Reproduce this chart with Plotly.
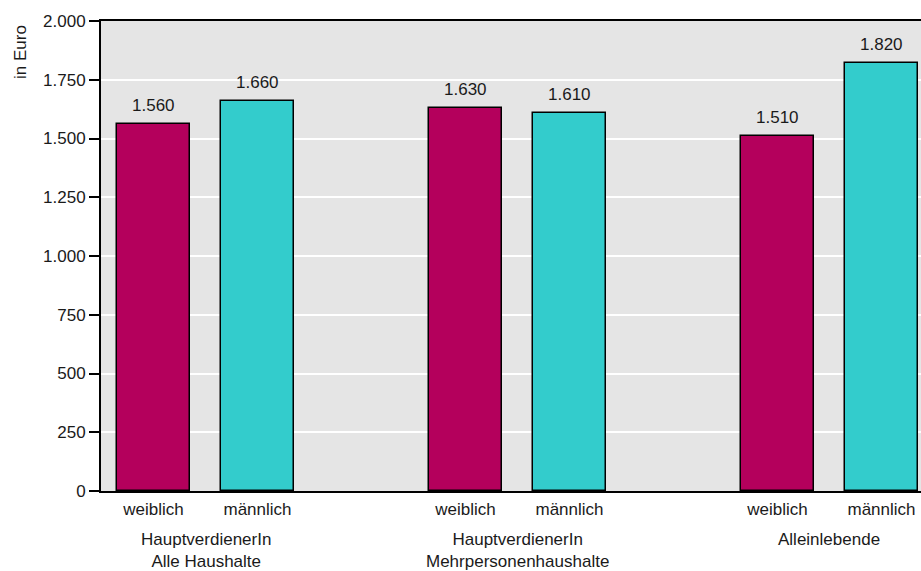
import plotly.graph_objects as go

groups = ["HauptverdienerIn<br>Alle Haushalte", "HauptverdienerIn<br>Mehrpersonenhaushalte", "Alleinlebende"]
genders = ["weiblich", "männlich"]
weiblich = [1560, 1630, 1510]
maennlich = [1660, 1610, 1820]
y_ticks = [0, 250, 500, 750, 1000, 1250, 1500, 1750, 2000]

col_w = "#b4005c"
col_m = "#33cccc"
txt = "#1a1a1a"
FS = 17

xw = [3 * i for i in range(len(groups))]
xm = [3 * i + 1 for i in range(len(groups))]

def fmt(v):
    return f"{v:,}".replace(",", ".")

fig = go.Figure()
fig.add_bar(x=xw, y=weiblich, width=0.7, marker=dict(color=col_w, line=dict(color="black", width=1.5)), name="weiblich")
fig.add_bar(x=xm, y=maennlich, width=0.7, marker=dict(color=col_m, line=dict(color="black", width=1.5)), name="männlich")

annotations = []
for xs, vs in ((xw, weiblich), (xm, maennlich)):
    for x, v in zip(xs, vs):
        annotations.append(dict(x=x, y=v, text=fmt(v), showarrow=False, yanchor="bottom", yshift=7,
                                font=dict(size=FS, color=txt)))
for i, g in enumerate(groups):
    annotations.append(dict(x=3 * i + 0.5, y=0, yref="y", text=g, showarrow=False, yanchor="top", yshift=-37,
                            font=dict(size=FS, color=txt)))
annotations.append(dict(x=0, xref="paper", xanchor="center", xshift=-81, y=1868, yref="y", yanchor="middle",
                        text="in Euro", textangle=-90, showarrow=False,
                        font=dict(size=FS, color=txt)))

tickvals = xw + xm
ticktext = [genders[0]] * len(xw) + [genders[1]] * len(xm)

fig.update_layout(
    width=921, height=571,
    margin=dict(l=101, r=0, t=21, b=80, autoexpand=False),
    plot_bgcolor="#e5e5e5", paper_bgcolor="white",
    showlegend=False,
    separators=",.",
    font=dict(family="Liberation Sans, Arial, sans-serif", size=FS, color=txt),
    annotations=annotations,
    bargap=0,
)
fig.update_xaxes(range=[-0.505, 7.38], tickvals=tickvals, ticktext=ticktext, showgrid=False,
                 showline=True, linecolor="black", linewidth=2, mirror=True, ticks="", zeroline=False,
                 ticklabelstandoff=2, automargin=False)
fig.update_yaxes(range=[0, 2000], tickvals=y_ticks, tickformat=",d", showgrid=True, gridcolor="white",
                 gridwidth=1.5, showline=True, linecolor="black", linewidth=2, ticks="outside",
                 ticklen=10, tickwidth=1.5, tickcolor="black", zeroline=False, automargin=False)

fig.write_html("out.html", config={"displayModeBar": False},
               post_script="document.body.style.margin='0';document.body.style.overflow='hidden';")
